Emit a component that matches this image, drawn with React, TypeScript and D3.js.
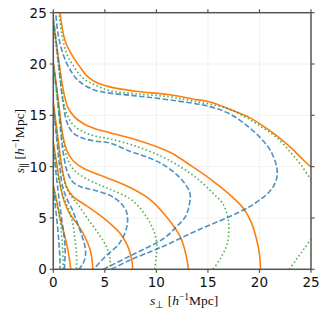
import React from "react";
import * as d3 from "d3";

type Pt = [number, number];

const sPerpTicks = [0, 5, 10, 15, 20, 25];
const sParTicks = [0, 5, 10, 15, 20, 25];

// Orange (solid) contour lines, [s_perp, s_par]
const orangeA: Pt[] = [[0.6,25.5],[0.9,23.3],[1.2,22.1],[1.8,20.9],[2.6,19.7],[3.3,18.8],[4.2,18.2],[5.8,17.7],[8,17.35],[11.3,17.0],[13.5,16.6],[15.2,16.3],[17.1,15.6],[19,14.8],[20.3,14.0],[21.7,13.0],[23.2,11.7],[24.25,10.65],[25.3,9.7]];
const orangeB: Pt[] = [[0,24.2],[0.3,22],[0.65,19.5],[1.0,17.3],[1.4,15.8],[2.0,14.9],[2.9,14.2],[4.05,13.7],[5.5,13.3],[8.4,12.5],[11.3,11.4],[13.5,10.0],[15.5,8.6],[17.2,7.2],[18.4,6.0],[19.2,4.6],[19.7,3.0],[20.0,1.5],[20.1,0]];
const orangeC: Pt[] = [[0,20.2],[0.3,18],[0.6,15.5],[0.9,13.2],[1.3,11.6],[1.9,10.6],[3.0,9.8],[5.0,9.0],[7.4,8.0],[9.4,6.8],[11.0,5.1],[12.3,3.2],[12.9,1.3],[13.1,0]];
const orangeD: Pt[] = [[0,16.3],[0.3,14],[0.6,11.6],[0.9,9.6],[1.3,8.0],[1.9,7.1],[3.2,6.2],[5.0,4.9],[6.4,3.6],[7.2,2.3],[7.6,1.0],[7.7,0]];
const orangeE: Pt[] = [[0,12.4],[0.3,10.5],[0.6,8.6],[1.0,6.8],[1.6,5.4],[2.4,4.3],[3.1,3.1],[3.6,1.8],[3.85,0]];
const orangeF: Pt[] = [[0,8.2],[0.33,6.6],[0.7,4.8],[1.1,3.3],[1.45,1.7],[1.7,0]];

// Green (dotted)
const greenA: Pt[] = [[0.5,25.5],[0.8,23],[1.3,21],[2.1,19.6],[2.9,18.6],[4.05,17.95],[5.5,17.4],[8,17.1],[11.3,16.8],[13.5,16.4],[16.8,15.7],[18.5,14.9],[20,14.0],[21.7,12.8],[23.1,11.3],[24.0,10.2],[24.9,8.9],[25.3,8.4]];
const greenA2: Pt[] = [[22.9,0],[23.6,1.0],[24.4,2.1],[25.3,3.4]];
const greenB: Pt[] = [[0,23.8],[0.3,21.5],[0.6,19],[0.9,16.8],[1.3,15.2],[1.9,14.1],[2.9,13.4],[4.0,13.0],[5.5,12.7],[8,12.0],[10.5,11.0],[12.3,10.0],[14.0,8.8],[15.5,7.4],[16.5,6.3],[17.0,4.6],[16.9,2.6],[16.3,1.2],[15.5,0]];
const greenC: Pt[] = [[0,19.8],[0.3,17.5],[0.6,15],[0.9,12.8],[1.3,11.0],[1.9,9.8],[2.9,9.0],[4.3,8.3],[5.5,7.8],[7.4,6.9],[8.2,6.2],[9.1,5.0],[9.8,3.6],[10.05,2.2],[9.95,1.0],[9.85,0]];
const greenD: Pt[] = [[0,15.8],[0.3,13.5],[0.6,11.2],[0.9,9.3],[1.3,7.9],[1.9,6.9],[2.4,6.3],[3.5,4.7],[4.5,3.3],[5.2,2.1],[5.5,1.0],[5.5,0]];
const greenE: Pt[] = [[0,12],[0.3,10.2],[0.6,8.5],[1.0,7.0],[1.45,6.0],[1.85,4.6],[2.1,3.0],[2.25,1.5],[2.27,0]];
const greenF: Pt[] = [[0,7.9],[0.3,6.8],[0.55,5.5],[0.75,4.0],[0.9,2.0],[0.97,0]];

// Blue (dashed)
const blueA: Pt[] = [[0.2,25.5],[0.45,23],[0.97,20.9],[1.6,19.5],[2.4,18.4],[3.9,17.5],[5.2,17.2],[8,16.9],[11.3,16.5],[15.2,15.85],[17,15.2],[18.4,14.3],[20,12.9],[21.1,11.5],[21.7,9.8],[21.6,8.6],[21.0,7.6],[19.8,6.6],[18.1,5.6],[14,3.8],[10.35,2.1],[7.44,0.9],[5.65,0]];
const blueB: Pt[] = [[0,24.5],[0.3,22],[0.6,19.2],[0.9,16.6],[1.3,14.4],[1.9,13.3],[2.8,12.8],[4.0,12.5],[5.5,12.3],[7.44,11.5],[9.2,10.9],[10.67,10.2],[12.0,9.2],[12.8,8.3],[13.26,7.4],[13.2,6.3],[12.8,5.1],[12.0,4.2],[10.7,3.0],[7.44,1.3],[4.85,0]];
const blueC: Pt[] = [[0,20],[0.3,17.5],[0.6,14.6],[0.9,11.8],[1.3,9.7],[1.9,8.5],[2.8,8.0],[4.0,7.7],[5.5,7.2],[6.5,6.5],[7.1,5.6],[7.2,4.6],[6.9,3.4],[6.3,2.4],[5.0,1.2],[3.9,0]];
const blueD: Pt[] = [[0,16],[0.3,13],[0.6,10.2],[0.9,8.1],[1.3,6.9],[1.8,5.9],[2.3,4.6],[2.8,3.2],[3.1,2.1],[3.1,1.2],[2.85,0.5],[2.5,0]];
const blueE: Pt[] = [[0,12],[0.25,9.5],[0.5,7.3],[0.8,5.0],[1.05,3.2],[1.15,1.8],[1.07,0]];
const blueF: Pt[] = [[0,8],[0.2,6.2],[0.4,4.3],[0.55,2.5],[0.65,1.0],[0.65,0]];

const orangeLines = [orangeA, orangeB, orangeC, orangeD, orangeE, orangeF];
const greenLines = [greenA, greenA2, greenB, greenC, greenD, greenE, greenF];
const blueLines = [blueA, blueB, blueC, blueD, blueE, blueF];

const W = 327, H = 318;
const L = 53.3, R = 311, T = 12.7, B = 269.3;

export default function App() {
  React.useEffect(() => {
    document.body.style.margin = "0";
  }, []);
  const x = d3.scaleLinear().domain([0, 25]).range([L, R]);
  const y = d3.scaleLinear().domain([0, 25]).range([B, T]);
  const line = d3.line<Pt>().x(d => x(d[0])).y(d => y(d[1])).curve(d3.curveCatmullRom.alpha(0.5));
  const axisColor = "#555";
  const lw = 1.6;
  const tickFont = "DejaVu Sans, sans-serif";
  const labelFont = "Liberation Serif, serif";
  return (
    <div style={{ position: "absolute", left: 0, top: 0 }}>
      <svg width={W} height={H} style={{ display: "block" }}>
        <rect width={W} height={H} fill="#fff" />
        <defs>
          <clipPath id="plot"><rect x={L} y={T} width={R - L} height={B - T} /></clipPath>
        </defs>
        {sPerpTicks.map(t => (
          <line key={"gx" + t} x1={x(t)} x2={x(t)} y1={T} y2={B} stroke="#efefef" strokeWidth={0.8} />
        ))}
        {sParTicks.map(t => (
          <line key={"gy" + t} x1={L} x2={R} y1={y(t)} y2={y(t)} stroke="#efefef" strokeWidth={0.8} />
        ))}
        <g clipPath="url(#plot)" fill="none">
          {orangeLines.map((c, i) => (
            <path key={"o" + i} d={line(c) || ""} stroke="#ff7f0e" strokeWidth={lw} />
          ))}
          {blueLines.map((c, i) => (
            <path key={"b" + i} d={line(c) || ""} stroke="#1f77b4" strokeOpacity={0.8} strokeWidth={lw} strokeDasharray="5.5,2.4" />
          ))}
          {greenLines.map((c, i) => (
            <path key={"g" + i} d={line(c) || ""} stroke="#2ca02c" strokeOpacity={0.85} strokeWidth={lw} strokeDasharray="1.5,2.5" />
          ))}
        </g>
        <rect x={L} y={T} width={R - L} height={B - T} fill="none" stroke={axisColor} strokeWidth={1.5} />
        {sPerpTicks.map(t => (
          <g key={"tx" + t}>
            <line x1={x(t)} x2={x(t)} y1={B} y2={B + 3.5} stroke={axisColor} strokeWidth={1.2} />
            <line x1={x(t)} x2={x(t)} y1={T} y2={T - 3.5} stroke={axisColor} strokeWidth={1.2} />
            <text x={x(t)} y={B + 18} textAnchor="middle" fontFamily={tickFont} fontSize={13.5} fill="#111">{t}</text>
          </g>
        ))}
        {sParTicks.map(t => (
          <g key={"ty" + t}>
            <line x1={L} x2={L - 3.5} y1={y(t)} y2={y(t)} stroke={axisColor} strokeWidth={1.2} />
            <line x1={R} x2={R + 3.5} y1={y(t)} y2={y(t)} stroke={axisColor} strokeWidth={1.2} />
            <text x={L - 6.5} y={y(t) + 5} textAnchor="end" fontFamily={tickFont} fontSize={13.5} fill="#111">{t}</text>
          </g>
        ))}
        <text x={(L + R) / 2 + 2} y={305} textAnchor="middle" fontFamily={labelFont} fontSize={13.5} fill="#111">
          <tspan fontStyle="italic">s</tspan>
          <tspan fontSize={10} dy={3}>⊥</tspan>
          <tspan dy={-3}> [</tspan>
          <tspan fontStyle="italic">h</tspan>
          <tspan fontSize={9.5} dy={-5}>−1</tspan>
          <tspan dy={5}>Mpc]</tspan>
        </text>
        <text transform={`translate(24, ${(T + B) / 2}) rotate(-90)`} textAnchor="middle" fontFamily={labelFont} fontSize={13.5} fill="#111">
          <tspan fontStyle="italic">s</tspan>
          <tspan fontSize={10} dy={3}>∥</tspan>
          <tspan dy={-3}> [</tspan>
          <tspan fontStyle="italic">h</tspan>
          <tspan fontSize={9.5} dy={-5}>−1</tspan>
          <tspan dy={5}>Mpc]</tspan>
        </text>
      </svg>
    </div>
  );
}
